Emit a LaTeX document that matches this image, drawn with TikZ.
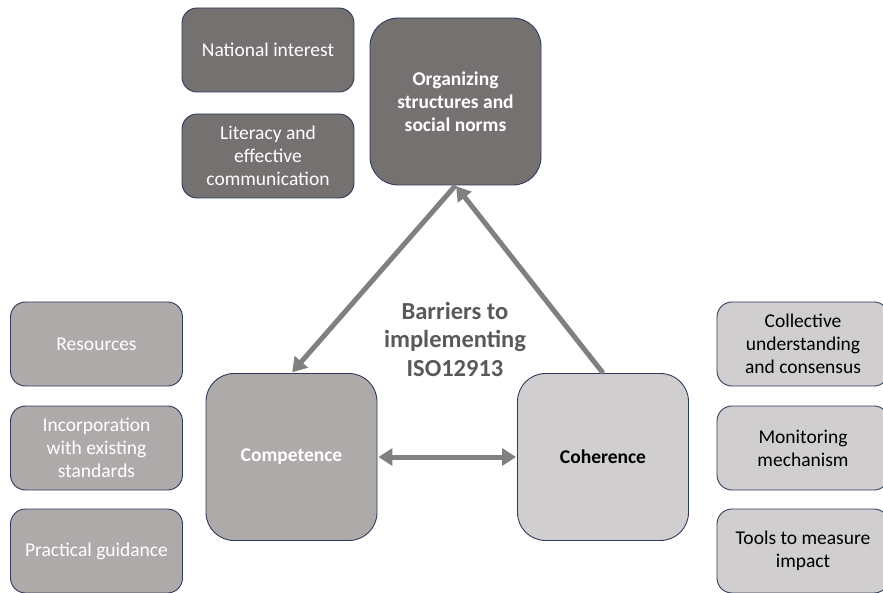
\documentclass[tikz,border=0pt]{standalone}
\usepackage{fontspec}
\setmainfont{Carlito}
\usepackage{tikz}
\usetikzlibrary{arrows.meta}
\definecolor{bxDark}{RGB}{118,113,113}
\definecolor{bxMid}{RGB}{174,170,170}
\definecolor{bxLight}{RGB}{208,206,206}
\definecolor{bxEdge}{RGB}{47,59,90}
\definecolor{arrGray}{RGB}{128,128,128}
\definecolor{hubText}{RGB}{89,89,89}

\begin{document}
\begin{tikzpicture}[x=1pt, y=-1pt,
    box/.style={draw=bxEdge, line width=0.9pt, rounded corners=15pt,
      minimum width=172pt, minimum height=84pt,
      align=center, inner sep=0pt, font=\fontsize{19.5}{23}\selectfont},
    hub/.style={box, rounded corners=28pt, minimum width=171pt,
      minimum height=167pt, font=\fontsize{19.5}{23}\selectfont\bfseries},
    flow/.style={-{Triangle[length=14pt, width=17pt]}, line width=5pt,
      draw=arrGray, shorten >=1pt}
  ]
    \useasboundingbox (0,0) rectangle (883,593);
    % organizing structures branch
    \node[box, fill=bxDark, text=white] (nat) at (268, 50) {National interest};
    \node[box, fill=bxDark, text=white] (lit) at (268, 156) {Literacy and\\effective\\communication};
    \node[hub, fill=bxDark, text=white] (org) at (455.5, 101.5) {Organizing\\structures and\\social norms};
    % competence branch
    \node[box, fill=bxMid, text=white] (res) at (96.5, 344) {Resources};
    \node[box, fill=bxMid, text=white] (inc) at (96.5, 448) {Incorporation\\with existing\\standards};
    \node[box, fill=bxMid, text=white] (pra) at (96.5, 551) {Practical guidance};
    \node[hub, fill=bxMid, text=white] (comp) at (291.5, 457) {Competence};
    % coherence branch
    \node[hub, fill=bxLight, text=black] (coh) at (603, 457) {Coherence};
    \node[box, fill=bxLight, text=black] (col) at (803, 344) {Collective\\understanding\\and consensus};
    \node[box, fill=bxLight, text=black] (mon) at (803, 448) {Monitoring\\mechanism};
    \node[box, fill=bxLight, text=black] (too) at (803, 551) {Tools to measure\\impact};
    % centre label
    \node[text=hubText, align=center, font=\fontsize{24.5}{28.5}\selectfont\bfseries] (bar) at (455, 339)
      {Barriers to\\implementing\\ISO12913};
    \draw[flow] (org.south) -- (comp.north);
    \draw[flow] (coh.north) -- (org.south);
    \draw[flow, {Triangle[length=14pt, width=17pt]}-{Triangle[length=14pt, width=17pt]}, shorten <=1pt]
      (comp.east) -- (coh.west);
  \end{tikzpicture}
\end{document}
